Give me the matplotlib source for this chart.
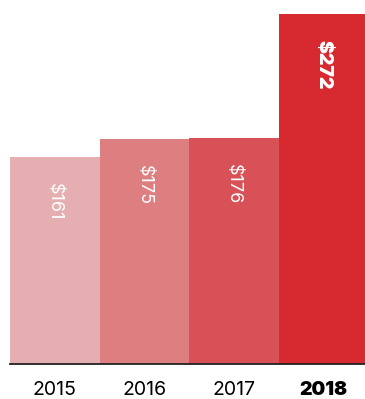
import matplotlib.pyplot as plt

plt.rcParams['font.family'] = ['Inter', 'DejaVu Sans']

years = ['2015', '2016', '2017', '2018']
values = [161, 175, 176, 272]
colors = ['#e5aeb0', '#dd7f80', '#d85157', '#d62a30']

fig = plt.figure(figsize=(3.65, 3.99), dpi=100)
ax = fig.add_axes([10/365, 1 - 364/399, 355/365, 350/399])

x = range(len(years))
ax.bar(x, values, width=1.0, color=colors, linewidth=0)
# last bar runs off the right edge a little
ax.set_xlim(-0.5, 3.466)
ax.set_ylim(0, max(values))

for i, v in enumerate(values):
    last = (i == len(values) - 1)
    ax.annotate(f"${v}", (i, v), xytext=(0, -19), textcoords='offset points',
                rotation=-90, ha='center', va='top', color='white',
                fontsize=14 if last else 13,
                fontweight='black' if last else 'normal')

for s in ['top', 'right', 'left']:
    ax.spines[s].set_visible(False)
ax.spines['bottom'].set_color('#222222')
ax.spines['bottom'].set_linewidth(1.3)
ax.set_yticks([])
ax.set_xticks(list(x))
ax.set_xticklabels(years, fontsize=14)
ax.tick_params(axis='x', length=0, pad=12)
ax.get_xticklabels()[-1].set_fontweight('black')

plt.savefig('out.png', dpi=100)
